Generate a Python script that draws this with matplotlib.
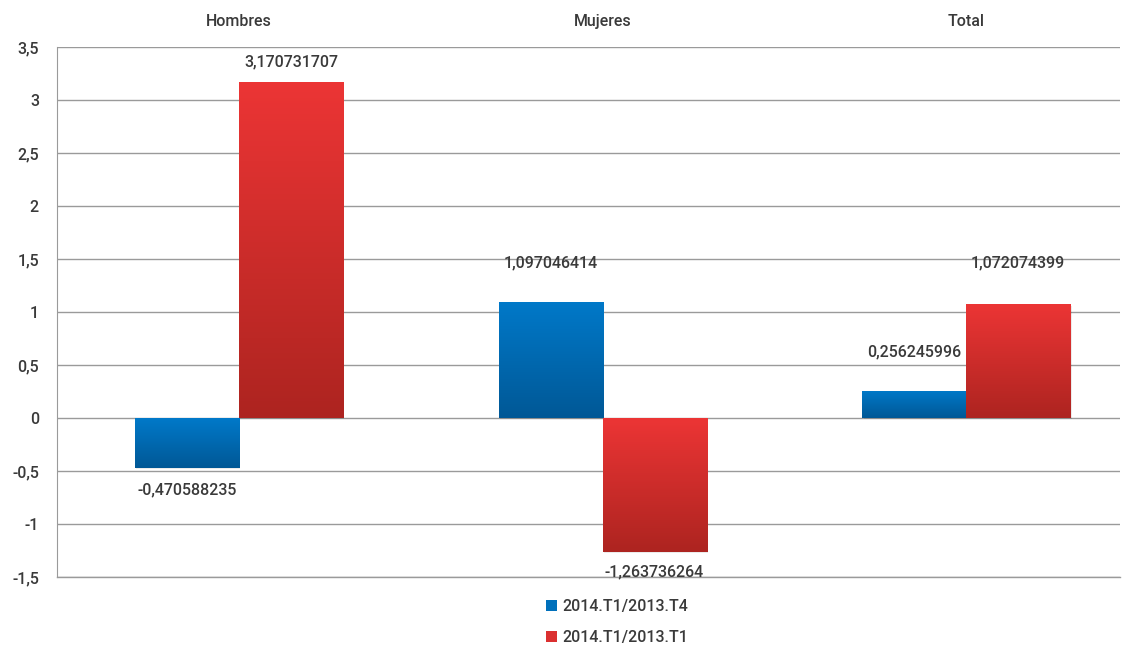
import matplotlib
matplotlib.use("Agg")
from matplotlib import pyplot as plt
from matplotlib.colors import LinearSegmentedColormap
from matplotlib.patches import Patch
import numpy as np

plt.rcParams['font.family'] = ['Roboto', 'DejaVu Sans']

categories = ['Hombres', 'Mujeres', 'Total']
series_names = ['2014.T1/2013.T4', '2014.T1/2013.T1']
t4_values = [-0.470588235, 1.097046414, 0.256245996]
t1_values = [3.170731707, -1.263736264, 1.072074399]
yticks = [-1.5, -1, -0.5, 0, 0.5, 1, 1.5, 2, 2.5, 3, 3.5]

text_col = '#3a3a3a'
grid_col = '#9a9a9a'
blue_grad = LinearSegmentedColormap.from_list('b', ['#005896', '#0079c9'])
red_grad = LinearSegmentedColormap.from_list('r', ['#ad2420', '#ec3535'])

fig = plt.figure(figsize=(11.32, 6.45), dpi=100)
ax = fig.add_axes([0.0504, 0.1054, 0.939, 0.8217])

x = np.arange(len(categories))
w = 0.286
grad = np.linspace(0, 1, 256).reshape(-1, 1)
fs = 11.5


def gradient_bars(xs, vals, cmap):
    bars = ax.bar(xs, vals, w, color='none', edgecolor='none', zorder=3)
    for b in bars:
        x0, y0 = b.get_x(), b.get_y()
        x1, y1 = x0 + b.get_width(), y0 + b.get_height()
        lo, hi = min(y0, y1), max(y0, y1)
        # soft shadow
        ax.bar(b.get_x() + b.get_width() / 2 + 0.004, b.get_height(), w,
               bottom=b.get_y() - 0.012, color='#000000', alpha=0.08,
               zorder=2)
        im = ax.imshow(grad, cmap=cmap, origin='lower', aspect='auto',
                       extent=[x0, x1, lo, hi], zorder=3)
        im.set_clip_path(b)
    return bars


gradient_bars(x - w / 2, t4_values, blue_grad)
gradient_bars(x + w / 2, t1_values, red_grad)


def fmt(v):
    return ('%.9f' % v).rstrip('0').replace('.', ',')


# label offsets from bar end
t4_off = [-0.21, 0.365, 0.37]
t1_off = [0.19, -0.19, 0.39]
for i, v in enumerate(t4_values):
    ax.text(x[i] - w / 2, v + t4_off[i], fmt(v), ha='center', va='center',
            fontsize=fs, weight='medium', color=text_col, zorder=5)
for i, v in enumerate(t1_values):
    ax.text(x[i] + w / 2, v + t1_off[i], fmt(v), ha='center', va='center',
            fontsize=fs, weight='medium', color=text_col, zorder=5)

ax.set_xlim(-0.5, 2.423)
ax.set_ylim(-1.5, 3.5)
ax.set_yticks(yticks)
ax.set_yticklabels([('%g' % t).replace('.', ',') for t in yticks],
                   fontsize=fs, weight='medium', color=text_col)
ax.tick_params(axis='y', length=0, pad=13)
ax.set_xticks(x)
ax.set_xticklabels(categories, fontsize=fs, weight='medium', color=text_col)
ax.xaxis.tick_top()
ax.tick_params(axis='x', length=0, pad=13)
ax.grid(axis='y', color=grid_col, linewidth=1, zorder=0)
ax.axhline(-1.5, color=grid_col, linewidth=1, clip_on=False, zorder=0)
ax.set_axisbelow(True)
for s in ['top', 'right', 'bottom']:
    ax.spines[s].set_visible(False)
ax.spines['left'].set_color(grid_col)

handles = [Patch(facecolor='#0070bb'), Patch(facecolor='#db3030')]
fig.legend(handles, series_names, loc='lower center',
           bbox_to_anchor=(0.545, -0.022), ncol=1, frameon=False,
           fontsize=fs, labelcolor=text_col, handlelength=0.7,
           handleheight=0.7, handletextpad=0.3, labelspacing=1.0,
           prop={'weight': 'medium', 'size': fs})

fig.savefig('out.png', dpi=100)
